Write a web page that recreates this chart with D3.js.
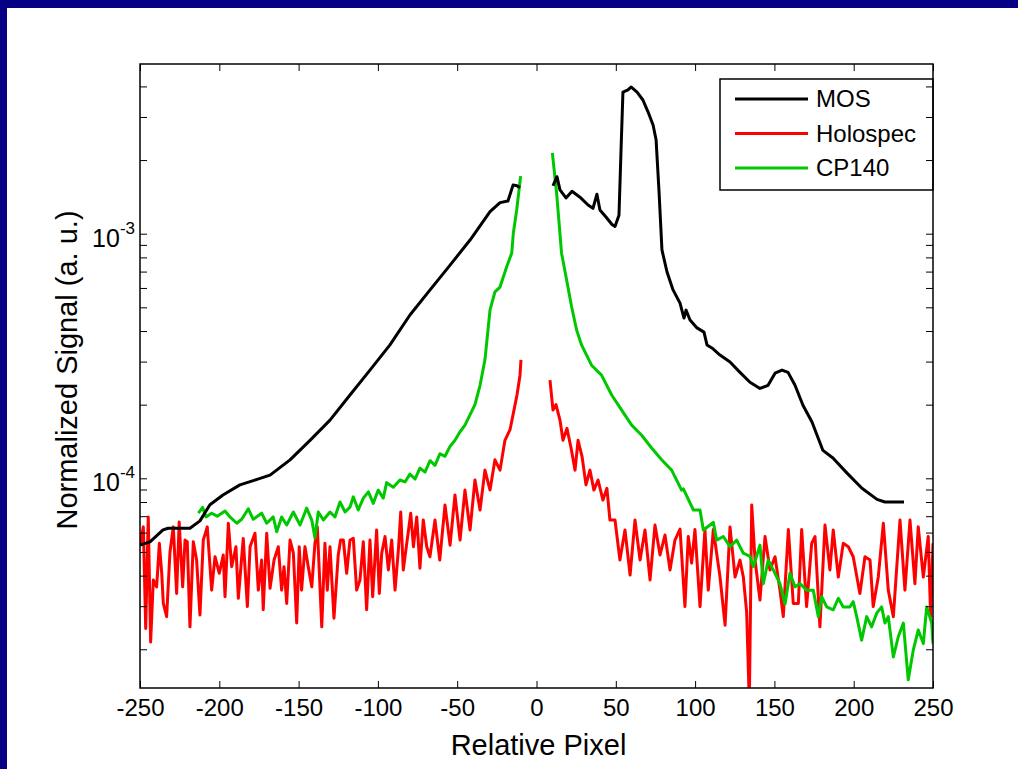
<!DOCTYPE html>
<html>
<head>
<meta charset="utf-8">
<script src="https://cdn.jsdelivr.net/npm/d3@7"></script>
<style>
  html, body { margin: 0; padding: 0; background: #fff; }
  svg { display: block; font-family: "Liberation Sans", Arial, sans-serif; }
</style>
</head>
<body>
<svg id="chart" width="1018" height="769"></svg>
<script>
// tick labels / categories
const xTicks = [-250, -200, -150, -100, -50, 0, 50, 100, 150, 200, 250];
const yMajor = [1e-4, 1e-3];
const yMinor = [2e-5, 3e-5, 4e-5, 5e-5, 6e-5, 7e-5, 8e-5, 9e-5,
                2e-4, 3e-4, 4e-4, 5e-4, 6e-4, 7e-4, 8e-4, 9e-4,
                2e-3, 3e-3, 4e-3];
const seriesNames = ["MOS", "Holospec", "CP140"];

// MOS (black), two branches either side of the centre gap
const mosLeft = [[-250,5.33e-5],[-243.7,5.5e-5],[-235.5,6.15e-5],[-232.3,6.25e-5],[-218.5,6.25e-5],
  [-212.2,6.7e-5],[-205.9,7.8e-5],[-197.7,8.55e-5],[-187,9.4e-5],[-176.2,9.9e-5],[-168,1.03e-4],
  [-155.4,1.19e-4],[-142.8,1.43e-4],[-130.2,1.73e-4],[-117.6,2.19e-4],[-105,2.77e-4],[-92.4,3.51e-4],
  [-79.8,4.65e-4],[-67.1,5.89e-4],[-54.5,7.44e-4],[-41.9,9.42e-4],[-29.3,1.23e-3],[-23,1.34e-3],
  [-18,1.36e-3],[-14.8,1.58e-3],[-12.3,1.57e-3],[-10.4,1.54e-3]];
const mosRight = [[10.4,1.57e-3],[12.9,1.71e-3],[14.8,1.51e-3],[18.6,1.40e-3],[22.4,1.49e-3],
  [27.4,1.41e-3],[32.5,1.31e-3],[35.6,1.27e-3],[38.1,1.45e-3],[40,1.25e-3],[43.8,1.17e-3],
  [47.6,1.09e-3],[49.5,1.07e-3],[52,1.19e-3],[53.3,2.2e-3],[54.5,3.79e-3],[57.7,3.87e-3],
  [59.6,3.98e-3],[63.4,3.79e-3],[67.1,3.52e-3],[70.3,3.15e-3],[73.5,2.78e-3],[75.4,2.42e-3],
  [77.2,1.51e-3],[79.1,8.58e-4],[82.3,6.97e-4],[86.1,5.89e-4],[90.5,5.2e-4],[93,4.52e-4],
  [94.3,4.87e-4],[96.8,4.44e-4],[101.2,4.12e-4],[105.6,3.96e-4],[107.5,3.51e-4],[110.6,3.41e-4],
  [115.7,3.19e-4],[122,2.99e-4],[128.3,2.71e-4],[134.6,2.47e-4],[140.9,2.33e-4],[146,2.40e-4],
  [150.4,2.69e-4],[154.8,2.77e-4],[158.6,2.71e-4],[163,2.40e-4],[168,1.99e-4],[173.7,1.70e-4],
  [180.6,1.30e-4],[186.9,1.21e-4],[195.8,1.05e-4],[205.2,9.1e-5],[214.7,8.2e-5],[219.7,8.0e-5],
  [231.7,8.0e-5]];

// Holospec (red)
const holoLeft = [[-250,5.33e-5],[-247.9,6.33e-5],[-246.4,2.43e-5],[-244.8,6.95e-5],[-243.3,2.14e-5],
  [-241.6,3.84e-5],[-239.5,3.6e-5],[-237.8,5.42e-5],[-236.3,4.09e-5],[-235.3,3.08e-5],[-233.2,2.72e-5],
  [-231.1,5.0e-5],[-229,6.33e-5],[-226.9,3.38e-5],[-225.3,6.63e-5],[-223.1,3.6e-5],[-221.6,5.59e-5],
  [-220.2,5.5e-5],[-218.5,2.47e-5],[-216.4,5.5e-5],[-214.3,4.63e-5],[-212.2,2.76e-5],[-210.1,5.59e-5],
  [-207.6,6.33e-5],[-204.8,3.49e-5],[-202.7,4.78e-5],[-200,4.09e-5],[-197.5,4.86e-5],[-196.4,3.28e-5],
  [-194.3,6.55e-5],[-192.2,4.35e-5],[-189.5,5.25e-5],[-188,3.23e-5],[-184.9,5.68e-5],[-182.3,2.99e-5],
  [-180.6,5.25e-5],[-177.5,5.96e-5],[-175.4,3.49e-5],[-173.3,4.63e-5],[-172.3,2.9e-5],[-170.1,5.96e-5],
  [-168,3.55e-5],[-165.5,4.63e-5],[-162.8,5.25e-5],[-160.7,3.49e-5],[-159.2,4.35e-5],[-157.5,3.08e-5],
  [-155.4,5.59e-5],[-153.3,4.94e-5],[-151.2,2.56e-5],[-149.6,5.25e-5],[-148.1,3.49e-5],[-146,5.25e-5],
  [-143.9,4.35e-5],[-141.7,3.6e-5],[-139.7,5.42e-5],[-138.2,6.33e-5],[-135.4,2.47e-5],[-133.4,5.42e-5],
  [-131.9,3.49e-5],[-130.2,5.25e-5],[-127.7,2.68e-5],[-125,4.86e-5],[-123.5,5.59e-5],[-121.8,5.59e-5],
  [-119.7,4.09e-5],[-117.6,5.59e-5],[-115.5,5.68e-5],[-113.4,3.49e-5],[-111.3,3.84e-5],[-109.2,5.5e-5],
  [-107.1,2.9e-5],[-105,5.59e-5],[-103.3,3.28e-5],[-100.8,6.15e-5],[-99.1,3.38e-5],[-97.6,4.94e-5],
  [-95.5,5.78e-5],[-93.4,4.22e-5],[-91.3,5.59e-5],[-89.2,3.49e-5],[-87.1,5.09e-5],[-85.6,7.28e-5],
  [-84,4.22e-5],[-81.8,5.42e-5],[-79.3,7.2e-5],[-77.6,5.25e-5],[-75.5,6.95e-5],[-73.5,4.29e-5],
  [-71.4,6.75e-5],[-69.2,5.25e-5],[-67.2,4.78e-5],[-64,6.75e-5],[-61,4.63e-5],[-57.7,7.78e-5],
  [-54.5,5.33e-5],[-51.4,8.55e-5],[-48.2,5.59e-5],[-45.1,8.95e-5],[-41.9,6.15e-5],[-38.8,9.84e-5],
  [-35.6,7.42e-5],[-32.5,1.08e-4],[-29.3,8.95e-5],[-26.2,1.19e-4],[-23,1.08e-4],[-19.9,1.43e-4],
  [-16.7,1.58e-4],[-14.2,1.90e-4],[-12.3,2.19e-4],[-10.4,2.64e-4],[-9.8,3.05e-4]];
const holoRight = [[8.5,2.52e-4],[10.4,1.90e-4],[12.3,2.0e-4],[14.8,1.73e-4],[16.7,1.43e-4],[19.2,1.60e-4],
  [21.7,1.34e-4],[24.3,1.08e-4],[26.2,1.43e-4],[28.7,1.23e-4],[31.2,9.4e-5],[33.7,1.08e-4],[36.2,8.95e-5],
  [38.8,9.84e-5],[41.9,8.15e-5],[44.4,9.1e-5],[46.3,6.75e-5],[49.5,6.75e-5],[52.6,4.63e-5],[55.8,6.15e-5],
  [59,4.02e-5],[62.1,6.75e-5],[65.3,4.63e-5],
  [68.4,6.15e-5],[71.6,3.84e-5],[74.7,6.44e-5],[77.9,4.86e-5],[81,5.86e-5],[84.2,4.22e-5],[87.3,5.59e-5],
  [90.5,6.2e-5],[93.6,2.99e-5],[95.7,5.78e-5],[97.8,4.5e-5],[99.9,6.17e-5],[103.1,2.99e-5],[106.2,6.17e-5],
  [108.3,3.49e-5],[111.5,6.17e-5],[115.7,3.95e-5],[118.9,2.51e-5],[122,6.33e-5],[125.2,3.95e-5],
  [128.3,4.63e-5],[130.4,3.95e-5],[132.5,2.84e-5],[134.2,1.2e-5],[135.7,7.78e-5],[137.8,4.63e-5],
  [140.9,3.18e-5],[144.1,5.78e-5],[147.2,4.22e-5],[150.4,4.78e-5],[153.5,3.49e-5],[155.6,2.72e-5],
  [158.8,6.17e-5],[161.9,3.08e-5],[165.1,3.08e-5],[167.2,6.17e-5],[170.3,2.99e-5],[173.5,5.42e-5],
  [175.6,5.78e-5],[178.7,2.47e-5],[181.9,6.44e-5],[185,4.22e-5],[187.1,6.15e-5],[190.3,3.95e-5],
  [193.4,5.42e-5],[196.6,5.25e-5],[199.7,4.78e-5],[203.9,3.38e-5],[207.1,4.78e-5],[210.3,4.63e-5],
  [212.3,2.99e-5],[215.5,3.95e-5],[218.7,6.55e-5],[221.8,3.49e-5],[225,2.72e-5],[229.2,6.75e-5],
  [232.3,3.49e-5],[235.5,6.75e-5],[238.6,3.71e-5],[240.7,6.33e-5],[243.9,3.95e-5],[247,5.78e-5],
  [248.5,2.72e-5],[250,5.42e-5]];

// CP140 (green)
const cpLeft = [[-213.2,7.2e-5],[-210.5,7.6e-5],[-208.4,6.95e-5],[-204.8,7.2e-5],[-201.3,7.0e-5],
  [-196.4,7.35e-5],[-193.3,6.95e-5],[-189,6.55e-5],[-185.9,6.8e-5],[-181.7,7.5e-5],[-178.6,6.8e-5],
  [-173.3,7.2e-5],[-170.1,6.55e-5],[-166,6.95e-5],[-163.8,6.05e-5],[-160.7,6.95e-5],[-157.5,6.44e-5],
  [-153.3,7.28e-5],[-149.1,6.44e-5],[-144.9,7.55e-5],[-141.7,6.75e-5],[-139.7,5.7e-5],[-137.6,7.28e-5],
  [-134.4,6.75e-5],[-130.2,7.28e-5],[-127.1,6.95e-5],[-123.9,8.0e-5],[-120.7,7.28e-5],[-117.6,7.62e-5],
  [-115.5,8.4e-5],[-112.4,7.42e-5],[-109.2,8.3e-5],[-106,8.8e-5],[-102.9,7.9e-5],[-99.8,8.95e-5],
  [-96.6,8.3e-5],[-94.5,9.6e-5],[-90.3,9.2e-5],[-86.1,9.84e-5],[-82.9,9.66e-5],[-79.8,1.04e-4],
  [-76.6,9.93e-5],[-73.5,1.10e-4],[-70.3,1.06e-4],[-67.1,1.18e-4],[-64,1.13e-4],[-60.9,1.26e-4],
  [-57.7,1.23e-4],[-54.5,1.35e-4],[-51.4,1.43e-4],[-48.2,1.55e-4],[-45.1,1.65e-4],
  [-38.8,2.0e-4],[-35.6,2.4e-4],[-32.5,3.05e-4],[-29.3,4.88e-4],
  [-26.2,5.78e-4],[-23,6.05e-4],[-18.8,7.33e-4],[-15.6,8.34e-4],[-14.6,1.007e-3],[-12.5,1.25e-3],
  [-10,1.72e-3]];
const cpRight = [[10,2.14e-3],[12.7,1.46e-3],[15.8,8.32e-4],[19,6.47e-4],[22.1,5.04e-4],[25.3,4.04e-4],
  [28.4,3.51e-4],[34.7,2.90e-4],[41,2.64e-4],[47.4,2.19e-4],[53.7,1.90e-4],[60,1.65e-4],[66.3,1.50e-4],
  [72.6,1.33e-4],[78.9,1.19e-4],[85.2,1.08e-4],[91.5,8.95e-5],[92.6,9.05e-5],[98.9,7.42e-5],[103.1,7.42e-5],
  [105.2,6.15e-5],[111.5,6.6e-5],[113.6,5.59e-5],[117.8,5.78e-5],[122,5.25e-5],[126.2,5.59e-5],
  [130.4,4.94e-5],[134.6,4.8e-5],[136.7,4.35e-5],[140.9,5.33e-5],[143,3.71e-5],[146.1,4.63e-5],
  [149.3,4.22e-5],[153.5,3.71e-5],[156.7,3.06e-5],[159.8,4.09e-5],[163,3.6e-5],[166.1,3.71e-5],
  [170.3,3.49e-5],[174.5,3.49e-5],[177.7,2.72e-5],[179.8,3.28e-5],[183,2.98e-5],[187.1,2.90e-5],
  [190.3,3.23e-5],[193.4,2.98e-5],[197.6,2.98e-5],[199.7,3.13e-5],[201.9,2.72e-5],[205,2.18e-5],
  [208.2,2.72e-5],[211.3,2.47e-5],[214.5,2.81e-5],[217.6,2.98e-5],[219.7,2.56e-5],[221.8,2.72e-5],
  [225,1.86e-5],[228.1,2.25e-5],[231.3,2.56e-5],[234.4,1.50e-5],[237.6,1.99e-5],[240.7,2.40e-5],
  [243.9,2.11e-5],[246,2.98e-5],[249.2,2.56e-5],[250,2.11e-5]];

(function() {
  'use strict';
  const svg = d3.select("#chart");
  const W = 1018, H = 769;
  const plotLeft = 140, plotRight = 933, plotTop = 64, plotBottom = 688;
  const tickLen = 7;
  const fontFamily = '"Liberation Sans", Arial, sans-serif';

  // blue frame strips (top and left only)
  svg.append("rect").attr("x", 0).attr("y", 0).attr("width", W).attr("height", 8).attr("fill", "#060084");
  svg.append("rect").attr("x", 0).attr("y", 0).attr("width", 7).attr("height", H).attr("fill", "#060084");

  // scales
  const x = d3.scaleLinear().domain([-250, 250]).range([plotLeft, plotRight]);
  const y = d3.scaleLog().domain([1.389e-5, 4.94e-3]).range([plotBottom, plotTop]);

  svg.append("clipPath").attr("id", "plotclip")
    .append("rect").attr("x", plotLeft).attr("y", plotTop)
    .attr("width", plotRight - plotLeft).attr("height", plotBottom - plotTop);

  // lines
  const line = d3.line().x(d => x(d[0])).y(d => y(d[1]));
  const plot = svg.append("g").attr("clip-path", "url(#plotclip)");
  const seriesData = [
    { data: holoLeft, color: "#ff0000" }, { data: holoRight, color: "#ff0000" },
    { data: cpLeft, color: "#00c800" }, { data: cpRight, color: "#00c800" },
    { data: mosLeft, color: "#000000" }, { data: mosRight, color: "#000000" }
  ];
  plot.selectAll("path")
    .data(seriesData)
    .join("path")
    .attr("d", d => line(d.data))
    .attr("fill", "none")
    .attr("stroke", d => d.color)
    .attr("stroke-width", 3)
    .attr("stroke-linejoin", "round");

  // legend (box flush with the right axis, axis ticks drawn over it)
  const lg = svg.append("g");
  lg.append("rect").attr("x", 720).attr("y", 79).attr("width", 213).attr("height", 111)
    .attr("fill", "#fff").attr("stroke", "#000").attr("stroke-width", 1.5);
  const legendColors = ["#000000", "#ff0000", "#00c800"];
  const items = lg.selectAll("g.item")
    .data(seriesNames)
    .join("g")
    .attr("transform", (d, i) => `translate(0,${99 + i * 34.5})`);
  items.append("line").attr("x1", 735).attr("x2", 808).attr("y1", 0).attr("y2", 0)
    .attr("stroke", (d, i) => legendColors[i]).attr("stroke-width", 3);
  items.append("text").attr("x", 816).attr("y", 8).attr("font-size", 24).text(d => d);

  // axes, ticks point inward on all four sides
  const yTicks = yMajor.concat(yMinor);
  svg.append("g").attr("transform", `translate(0,${plotBottom})`)
    .call(d3.axisBottom(x).tickValues(xTicks).tickSize(-tickLen).tickPadding(11))
    .call(g => g.select(".domain").remove())
    .call(g => g.selectAll("text").attr("font-size", 24).attr("fill", "#000")
        .attr("font-family", fontFamily).text(d => d));
  svg.append("g").attr("transform", `translate(0,${plotTop})`)
    .call(d3.axisTop(x).tickValues(xTicks).tickSize(-tickLen).tickFormat(""))
    .call(g => g.select(".domain").remove());
  svg.append("g").attr("transform", `translate(${plotLeft},0)`)
    .call(d3.axisLeft(y).tickValues(yTicks).tickSize(-tickLen).tickFormat(""))
    .call(g => g.select(".domain").remove());
  svg.append("g").attr("transform", `translate(${plotRight},0)`)
    .call(d3.axisRight(y).tickValues(yTicks).tickSize(-tickLen).tickFormat(""))
    .call(g => g.select(".domain").remove());

  svg.append("rect").attr("x", plotLeft).attr("y", plotTop)
    .attr("width", plotRight - plotLeft).attr("height", plotBottom - plotTop)
    .attr("fill", "none").attr("stroke", "#000").attr("stroke-width", 1.5);

  // y tick labels 10^-n
  const yl = svg.append("g").selectAll("text")
    .data(yMajor)
    .join("text")
    .attr("x", plotLeft - 5)
    .attr("y", d => y(d) + 13)
    .attr("text-anchor", "end")
    .attr("font-size", 25);
  yl.append("tspan").text("10");
  yl.append("tspan").attr("dy", -13).attr("font-size", 17).text(d => Math.round(Math.log10(d)));

  // axis titles
  svg.append("text")
    .attr("x", (plotLeft + plotRight) / 2 + 2).attr("y", 755)
    .attr("text-anchor", "middle").attr("font-size", 29)
    .text("Relative Pixel");
  svg.append("text")
    .attr("transform", `translate(77,${(plotTop + plotBottom) / 2 - 6}) rotate(-90)`)
    .attr("text-anchor", "middle").attr("font-size", 29)
    .text("Normalized Signal (a. u.)");
})();
</script>
</body>
</html>
